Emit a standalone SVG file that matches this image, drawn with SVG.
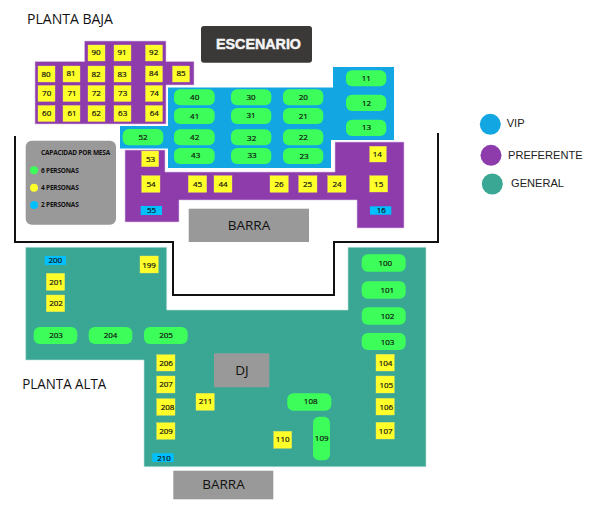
<svg xmlns="http://www.w3.org/2000/svg" width="600" height="511" viewBox="0 0 600 511">
<style>
text{font-family:"Open Sans","Noto Sans",sans-serif;fill:#111}
.n{font-size:8px;text-anchor:middle;stroke:#111;stroke-width:.2px}
.y{fill:#ffff2a;stroke:#e8e060;stroke-width:.4}
.g{fill:#3dfd5a}
.c{fill:#00bfff}
.gb{fill:#999}
.t{font-size:14.5px}
.b{font-size:13.5px;text-anchor:middle}
.a{font-family:"Liberation Sans",Arial,sans-serif;font-size:11.1px;fill:#222}
.k{font-size:6.5px;font-weight:700;letter-spacing:-.2px}
</style>
<g id="zones">
<path id="zone-preferente-a" d="M84.5 41H166V61.5H194V85H166V124H35V61.5H84.5Z" fill="#8e3bab" stroke="#d9c2e4" stroke-width=".6"/>
<path id="zone-vip" d="M168 87.5H333V67H394V140H331V168H168V148.5H120V126H168Z" fill="#12a6e3"/>
<path id="zone-preferente-b" d="M125 150H165V172H335V142H404V228H357V200H179V222H125Z" fill="#8e3bab" stroke="#d9c2e4" stroke-width=".6"/>
<path id="zone-general" d="M25.7 247.3H166.7V310H348V247.3H426V466.7H144V360H25.7Z" fill="#3aa795" stroke="#bfe3dc" stroke-width=".6"/>
</g>
<g id="walls"><path d="M15 136V242H173V295H334V242H438V133" fill="none" stroke="#111" stroke-width="2"/></g>
<g id="fixtures">
<g id="escenario"><rect x="201" y="26" width="111" height="36.7" rx="3" fill="#3b3838"/><text x="258.5" y="48.5" text-anchor="middle" textLength="85" lengthAdjust="spacingAndGlyphs" style="font-family:'Liberation Sans',Arial,sans-serif;font-size:15px;font-weight:700;fill:#f4f4f4;stroke:#f4f4f4;stroke-width:.5px">ESCENARIO</text></g>
<g id="barra-baja"><rect class="gb" x="188.7" y="208.7" width="120.3" height="33.3"/><text class="b" x="249" y="229.5">BARRA</text></g>
<g id="dj"><rect class="gb" x="214" y="353.3" width="55.3" height="34"/><text class="b" x="242" y="374.5">DJ</text></g>
<g id="barra-alta"><rect class="gb" x="173.3" y="470.7" width="100" height="28.6"/><text class="b" x="223.5" y="489">BARRA</text></g>
</g>
<text class="t" x="27" y="24" textLength="86" lengthAdjust="spacingAndGlyphs">PLANTA BAJA</text>
<text class="t" x="22.3" y="389" textLength="84" lengthAdjust="spacingAndGlyphs">PLANTA ALTA</text>
<g id="capacidad">
<rect x="25.7" y="140.7" width="90.3" height="84" rx="6" fill="#999"/>
<text class="k" x="41" y="155" textLength="69" lengthAdjust="spacingAndGlyphs">CAPACIDAD POR MESA</text>
<circle cx="34" cy="170.3" r="4" class="g"/><text class="k" x="41" y="172.5">6 PERSONAS</text>
<circle cx="34" cy="187.7" r="4" fill="#ffff2a"/><text class="k" x="41" y="190">4 PERSONAS</text>
<circle cx="34" cy="205" r="4" class="c"/><text class="k" x="41" y="207">2 PERSONAS</text>
</g>
<g id="leyenda">
<g id="ley-vip"><circle cx="490.3" cy="124.3" r="10.5" fill="#12a6e3"/><text class="a" x="506.7" y="127">VIP</text></g>
<g id="ley-preferente"><circle cx="491" cy="155.3" r="10.5" fill="#8e3bab"/><text class="a" x="508" y="158.5">PREFERENTE</text></g>
<g id="ley-general"><circle cx="492.3" cy="184" r="10.5" fill="#3aa795"/><text class="a" x="511" y="187">GENERAL</text></g>
</g>
<g id="mesas-4-baja">
<rect class="y" x="88" y="45" width="17" height="16"/><text class="n" x="96" y="55.3">90</text>
<rect class="y" x="114" y="45" width="17" height="16"/><text class="n" x="122" y="55.3">91</text>
<rect class="y" x="145.5" y="45" width="17" height="16"/><text class="n" x="153.7" y="55.3">92</text>
<rect class="y" x="38" y="66" width="17" height="16"/><text class="n" x="46" y="76.7">80</text>
<rect class="y" x="63" y="66" width="17" height="16"/><text class="n" x="71" y="76.3">81</text>
<rect class="y" x="88" y="66" width="17" height="16"/><text class="n" x="96" y="76.7">82</text>
<rect class="y" x="114" y="66" width="17" height="16"/><text class="n" x="122" y="76.7">83</text>
<rect class="y" x="145.5" y="66" width="17" height="16"/><text class="n" x="153.7" y="76.3">84</text>
<rect class="y" x="172.5" y="66" width="17" height="16"/><text class="n" x="181" y="76.3">85</text>
<rect class="y" x="38" y="85.5" width="17" height="16"/><text class="n" x="46.7" y="96">70</text>
<rect class="y" x="63" y="85.5" width="17" height="16"/><text class="n" x="72" y="95.5">71</text>
<rect class="y" x="88" y="85.5" width="17" height="16"/><text class="n" x="96.3" y="96">72</text>
<rect class="y" x="114" y="85.5" width="17" height="16"/><text class="n" x="122.7" y="96">73</text>
<rect class="y" x="145.5" y="85.5" width="17" height="16"/><text class="n" x="154.3" y="95.5">74</text>
<rect class="y" x="38" y="105.5" width="17" height="16"/><text class="n" x="46.7" y="116">60</text>
<rect class="y" x="63" y="105.5" width="17" height="16"/><text class="n" x="72" y="115.5">61</text>
<rect class="y" x="88" y="105.5" width="17" height="16"/><text class="n" x="96.3" y="116">62</text>
<rect class="y" x="114" y="105.5" width="17" height="16"/><text class="n" x="122.7" y="116">63</text>
<rect class="y" x="145.5" y="105.5" width="17" height="16"/><text class="n" x="154.3" y="115.5">64</text>
<rect class="y" x="141.7" y="151" width="17" height="15.7"/><text class="n" x="150.5" y="161.5">53</text>
<rect class="y" x="141.7" y="175.7" width="18.3" height="16.6"/><text class="n" x="151" y="186.5">54</text>
<rect class="y" x="188.3" y="175.7" width="18.4" height="16.6"/><text class="n" x="197.5" y="186.5">45</text>
<rect class="y" x="214" y="175.7" width="18" height="16.6"/><text class="n" x="223" y="186.5">44</text>
<rect class="y" x="270" y="175.7" width="18.3" height="16.6"/><text class="n" x="279" y="186.5">26</text>
<rect class="y" x="298.7" y="175.7" width="18.3" height="16.6"/><text class="n" x="307.5" y="186.5">25</text>
<rect class="y" x="327.7" y="175.7" width="18.3" height="16.6"/><text class="n" x="337" y="186.5">24</text>
<rect class="y" x="369.7" y="175.7" width="18" height="16.3"/><text class="n" x="378.7" y="186.5">15</text>
<rect class="y" x="369.7" y="146.3" width="16.6" height="15.7"/><text class="n" x="377.3" y="156.5">14</text>
</g>
<g id="mesas-2-baja">
<rect class="c" x="140.7" y="206" width="21.3" height="9"/><text class="n" x="151.5" y="213.2">55</text>
<rect class="c" x="370" y="206.3" width="21.3" height="8.4"/><text class="n" x="381.3" y="213">16</text>
</g>
<g id="mesas-6-baja">
<rect class="g" x="122.7" y="129" width="40.6" height="16.3" rx="6"/><text class="n" x="143" y="139.5">52</text>
<rect class="g" x="174" y="89.3" width="40.7" height="16" rx="6"/><text class="n" x="194.7" y="100">40</text>
<rect class="g" x="174" y="108" width="40.7" height="16" rx="6"/><text class="n" x="194.7" y="118.7">41</text>
<rect class="g" x="174" y="129.3" width="40.7" height="16" rx="6"/><text class="n" x="194.7" y="139.7">42</text>
<rect class="g" x="174" y="148" width="40.7" height="16" rx="6"/><text class="n" x="195.7" y="158">43</text>
<rect class="g" x="231" y="89.3" width="40.3" height="16" rx="6"/><text class="n" x="251" y="100">30</text>
<rect class="g" x="231" y="108" width="40.3" height="16" rx="6"/><text class="n" x="251" y="118.4">31</text>
<rect class="g" x="231" y="129.3" width="40.3" height="16" rx="6"/><text class="n" x="251.7" y="141">32</text>
<rect class="g" x="231" y="148" width="40.3" height="16" rx="6"/><text class="n" x="252" y="158.4">33</text>
<rect class="g" x="283" y="89.3" width="40.3" height="16" rx="6"/><text class="n" x="303.3" y="100">20</text>
<rect class="g" x="283" y="108" width="40.3" height="16" rx="6"/><text class="n" x="303.3" y="118.7">21</text>
<rect class="g" x="283" y="129.3" width="40.3" height="16" rx="6"/><text class="n" x="303.3" y="139.7">22</text>
<rect class="g" x="283" y="148" width="40.3" height="16" rx="6"/><text class="n" x="304" y="158.7">23</text>
<rect class="g" x="346" y="70.3" width="40.3" height="16" rx="6"/><text class="n" x="366.3" y="80.7">11</text>
<rect class="g" x="346" y="94.7" width="40.3" height="16.3" rx="6"/><text class="n" x="366.5" y="105.5">12</text>
<rect class="g" x="346" y="119.7" width="40.3" height="16.3" rx="6"/><text class="n" x="366.5" y="129.7">13</text>
</g>
<g id="mesas-alta">
<rect class="c" x="44.7" y="256" width="21.3" height="9"/><text class="n" x="55.3" y="263.2">200</text>
<rect class="y" x="46.3" y="273.3" width="18.4" height="17"/><text class="n" x="56" y="284.5">201</text>
<rect class="y" x="46.3" y="295" width="18.4" height="16.7"/><text class="n" x="56" y="305.5">202</text>
<rect class="y" x="140" y="256" width="18.3" height="17"/><text class="n" x="149" y="267.5">199</text>
<rect class="g" x="33.7" y="327" width="43.6" height="17" rx="6"/><text class="n" x="56" y="338">203</text>
<rect class="g" x="88.7" y="327" width="43.6" height="17" rx="6"/><text class="n" x="110.5" y="338">204</text>
<rect class="g" x="144" y="327" width="43.7" height="17" rx="6"/><text class="n" x="166" y="338">205</text>
<rect class="y" x="156.7" y="354.7" width="18.3" height="16.3"/><text class="n" x="166" y="366">206</text>
<rect class="y" x="156.7" y="376" width="18.3" height="17"/><text class="n" x="166" y="387">207</text>
<rect class="y" x="156.7" y="398.7" width="18.3" height="16.6"/><text class="n" x="167.5" y="409.5">208</text>
<rect class="y" x="156.7" y="422.7" width="18.3" height="16.6"/><text class="n" x="166" y="433.7">209</text>
<rect class="c" x="152.3" y="453.3" width="21.4" height="8.7"/><text class="n" x="164" y="460.5">210</text>
<rect class="y" x="196" y="393.3" width="18.3" height="17"/><text class="n" x="205.5" y="404">211</text>
<rect class="g" x="287.3" y="393.3" width="44" height="17.4" rx="6"/><text class="n" x="310.7" y="403.7">108</text>
<rect class="g" x="313" y="416.7" width="17" height="43.6" rx="6"/><text class="n" x="321.7" y="441">109</text>
<rect class="y" x="273.7" y="431.3" width="18" height="17"/><text class="n" x="282.7" y="442.2">110</text>
<rect class="g" x="361.7" y="254.3" width="44" height="17.4" rx="6"/><text class="n" x="385.3" y="265.5">100</text>
<rect class="g" x="361.7" y="281.3" width="44" height="17.4" rx="6"/><text class="n" x="387.3" y="292.5">101</text>
<rect class="g" x="361.7" y="307.3" width="44" height="17.4" rx="6"/><text class="n" x="387.5" y="319">102</text>
<rect class="g" x="361.7" y="333" width="44" height="17" rx="6"/><text class="n" x="387.5" y="345">103</text>
<rect class="y" x="376" y="354.3" width="18.3" height="16.7"/><text class="n" x="385.5" y="366">104</text>
<rect class="y" x="376" y="376" width="18.3" height="17"/><text class="n" x="386.3" y="387.5">105</text>
<rect class="y" x="376" y="398.3" width="18.3" height="16.7"/><text class="n" x="386.3" y="409.7">106</text>
<rect class="y" x="376" y="422.3" width="18.3" height="16.7"/><text class="n" x="385.7" y="433.5">107</text>
</g>
</svg>
